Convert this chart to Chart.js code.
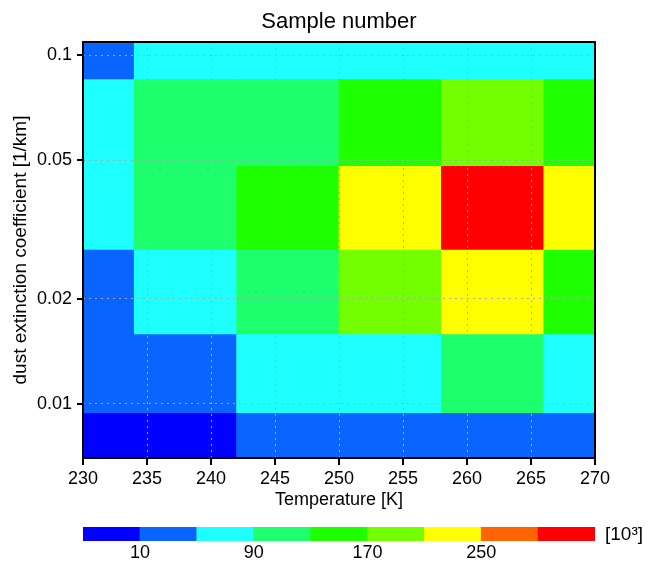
<!DOCTYPE html>
<html>
<head>
<meta charset="utf-8">
<script src="https://cdn.jsdelivr.net/npm/chart.js@4/dist/chart.umd.min.js"></script>
<style>
  body { margin: 0; background: #fff; }
  #wrap { position: relative; width: 651px; height: 562px; }
  #mainChart { position: absolute; left: 0; top: 0; }
  #barChart { position: absolute; left: 0; top: 510px; }
</style>
</head>
<body>
<div id="wrap">
  <canvas id="mainChart" width="651" height="515"></canvas>
  <canvas id="barChart" width="651" height="52"></canvas>
</div>
<script>
// bin centres along temperature (K), each bin 8 K wide
const temperatures = [230, 238, 246, 254, 262, 270];
// edges of the extinction bins (1/km), top to bottom
const extinctionEdges = [0.15, 0.085, 0.048, 0.0276, 0.0158, 0.0094, 0.005];
// sample number [10^3], one row per extinction bin (top row first)
const row1 = [25, 60, 75, 80, 70, 55];
const row2 = [70, 105, 120, 150, 185, 145];
const row3 = [65, 115, 160, 235, 305, 225];
const row4 = [35, 80, 125, 180, 220, 140];
const row5 = [20, 40, 70, 85, 110, 60];
const row6 = [5, 8, 30, 35, 40, 30];
const sampleRows = [row1, row2, row3, row4, row5, row6];

const xTicks = [230, 235, 240, 245, 250, 255, 260, 265, 270];
const yTicks = [0.01, 0.02, 0.05, 0.1];

// colour levels
const levelBounds = [10, 50, 90, 130, 170, 210, 250, 290];
const levelColors = ['#0000ff', '#0a64ff', '#1effff', '#1eff6e', '#1eff00', '#73ff00', '#ffff00', '#ff6400', '#ff0000'];
const colorbarTicks = [10, 90, 170, 250];
const colorbarMin = -30;
const colorbarMax = 330;

const FONT = "'Liberation Sans', Arial, sans-serif";

function levelColor(v) {
  for (let i = 0; i < levelBounds.length; i++) {
    if (v < levelBounds[i]) return levelColors[i];
  }
  return levelColors[levelColors.length - 1];
}

// build the cells as floating bars
const cells = [];
sampleRows.forEach((row, i) => {
  row.forEach((v, j) => {
    cells.push({ x: temperatures[j], y: [extinctionEdges[i + 1], extinctionEdges[i]], v: v });
  });
});

// black frame around the plot plus outward tick marks
const frame = {
  id: 'frame',
  afterDraw(chart) {
    const a = chart.chartArea;
    const ctx = chart.ctx;
    const sx = chart.scales.x;
    const sy = chart.scales.y;
    ctx.save();
    ctx.strokeStyle = '#000';
    ctx.lineWidth = 2;
    ctx.beginPath();
    sx.ticks.forEach(t => {
      const px = Math.round(sx.getPixelForValue(t.value));
      ctx.moveTo(px, a.bottom);
      ctx.lineTo(px, a.bottom + 7);
    });
    sy.ticks.forEach(t => {
      const py = Math.round(sy.getPixelForValue(t.value));
      ctx.moveTo(a.left, py);
      ctx.lineTo(a.left - 6, py);
    });
    ctx.stroke();
    ctx.strokeRect(a.left, a.top, a.right - a.left, a.bottom - a.top);
    ctx.restore();
  }
};

new Chart(document.getElementById('mainChart'), {
  type: 'bar',
  data: {
    datasets: [{
      data: cells,
      xAxisID: 'xBins',
      yAxisID: 'y',
      backgroundColor: ctx => ctx.raw ? levelColor(ctx.raw.v) : 'transparent',
      borderWidth: 0,
      barPercentage: 1,
      categoryPercentage: 1,
      clip: 0
    }]
  },
  options: {
    responsive: false,
    animation: false,
    layout: { padding: { left: 0, right: 56, top: 0, bottom: 0 } },
    plugins: {
      legend: { display: false },
      tooltip: { enabled: false },
      title: {
        display: true,
        text: 'Sample number',
        fullSize: false,
        color: '#000',
        font: { family: FONT, size: 22, weight: 'normal', lineHeight: 1.2 },
        padding: { top: 9, bottom: 6.6 }
      }
    },
    scales: {
      x: {
        type: 'linear',
        position: 'bottom',
        min: 230,
        max: 270,
        offset: false,
        afterBuildTicks: s => { s.ticks = xTicks.map(v => ({ value: v })); },
        afterFit: s => { s.height = 57; },
        ticks: { color: '#000', font: { family: FONT, size: 18 }, padding: 10, maxRotation: 0 },
        grid: { z: 1, offset: false, color: '#a8a8a8', lineWidth: 1, drawTicks: false },
        border: { display: false, dash: [2, 4] },
        title: {
          display: true,
          text: 'Temperature [K]',
          color: '#000',
          font: { family: FONT, size: 18 },
          padding: { top: 0, bottom: 4 }
        }
      },
      xBins: {
        type: 'linear',
        display: false,
        offset: false,
        grid: { offset: false },
        min: 230,
        max: 270,
        afterBuildTicks: s => { s.ticks = temperatures.map(v => ({ value: v })); }
      },
      y: {
        type: 'logarithmic',
        position: 'left',
        min: 0.007,
        max: 0.109,
        afterBuildTicks: s => { s.ticks = yTicks.map(v => ({ value: v })); },
        afterFit: s => { s.width = 83; },
        ticks: { color: '#000', font: { family: FONT, size: 18 }, padding: 11, callback: v => String(v) },
        grid: { z: 1, color: '#a8a8a8', lineWidth: 1, drawTicks: false },
        border: { display: false, dash: [2, 4] },
        title: {
          display: true,
          text: 'dust extinction coefficient [1/km]',
          color: '#000',
          font: { family: FONT, size: 19 },
          padding: { top: 9, bottom: 0 }
        }
      }
    }
  },
  plugins: [frame]
});

// colour bar
const unitLabel = {
  id: 'unitLabel',
  afterDraw(chart) {
    const a = chart.chartArea;
    const ctx = chart.ctx;
    ctx.save();
    ctx.fillStyle = '#000';
    ctx.font = '19px ' + FONT;
    ctx.textAlign = 'left';
    ctx.textBaseline = 'middle';
    ctx.fillText('[10\u00b3]', a.right + 10, (a.top + a.bottom) / 2 + 1);
    ctx.restore();
  }
};

const barEdges = [colorbarMin].concat(levelBounds, [colorbarMax]);
new Chart(document.getElementById('barChart'), {
  type: 'bar',
  data: {
    labels: ['levels'],
    datasets: [{
      data: levelColors.map((c, i) => ({ y: 'levels', x: [barEdges[i], barEdges[i + 1]] })),
      backgroundColor: levelColors,
      borderWidth: 0,
      barPercentage: 1,
      categoryPercentage: 1,
      grouped: false
    }]
  },
  options: {
    indexAxis: 'y',
    responsive: false,
    animation: false,
    layout: { padding: { left: 83, right: 56, top: 17, bottom: 0 } },
    plugins: { legend: { display: false }, tooltip: { enabled: false } },
    scales: {
      x: {
        type: 'linear',
        min: colorbarMin,
        max: colorbarMax,
        afterBuildTicks: s => { s.ticks = colorbarTicks.map(v => ({ value: v })); },
        afterFit: s => { s.height = 21; },
        ticks: { color: '#000', font: { family: FONT, size: 18 }, padding: 1, maxRotation: 0 },
        grid: { display: false, drawTicks: false },
        border: { display: false }
      },
      y: { display: false }
    }
  },
  plugins: [unitLabel]
});
</script>
</body>
</html>
